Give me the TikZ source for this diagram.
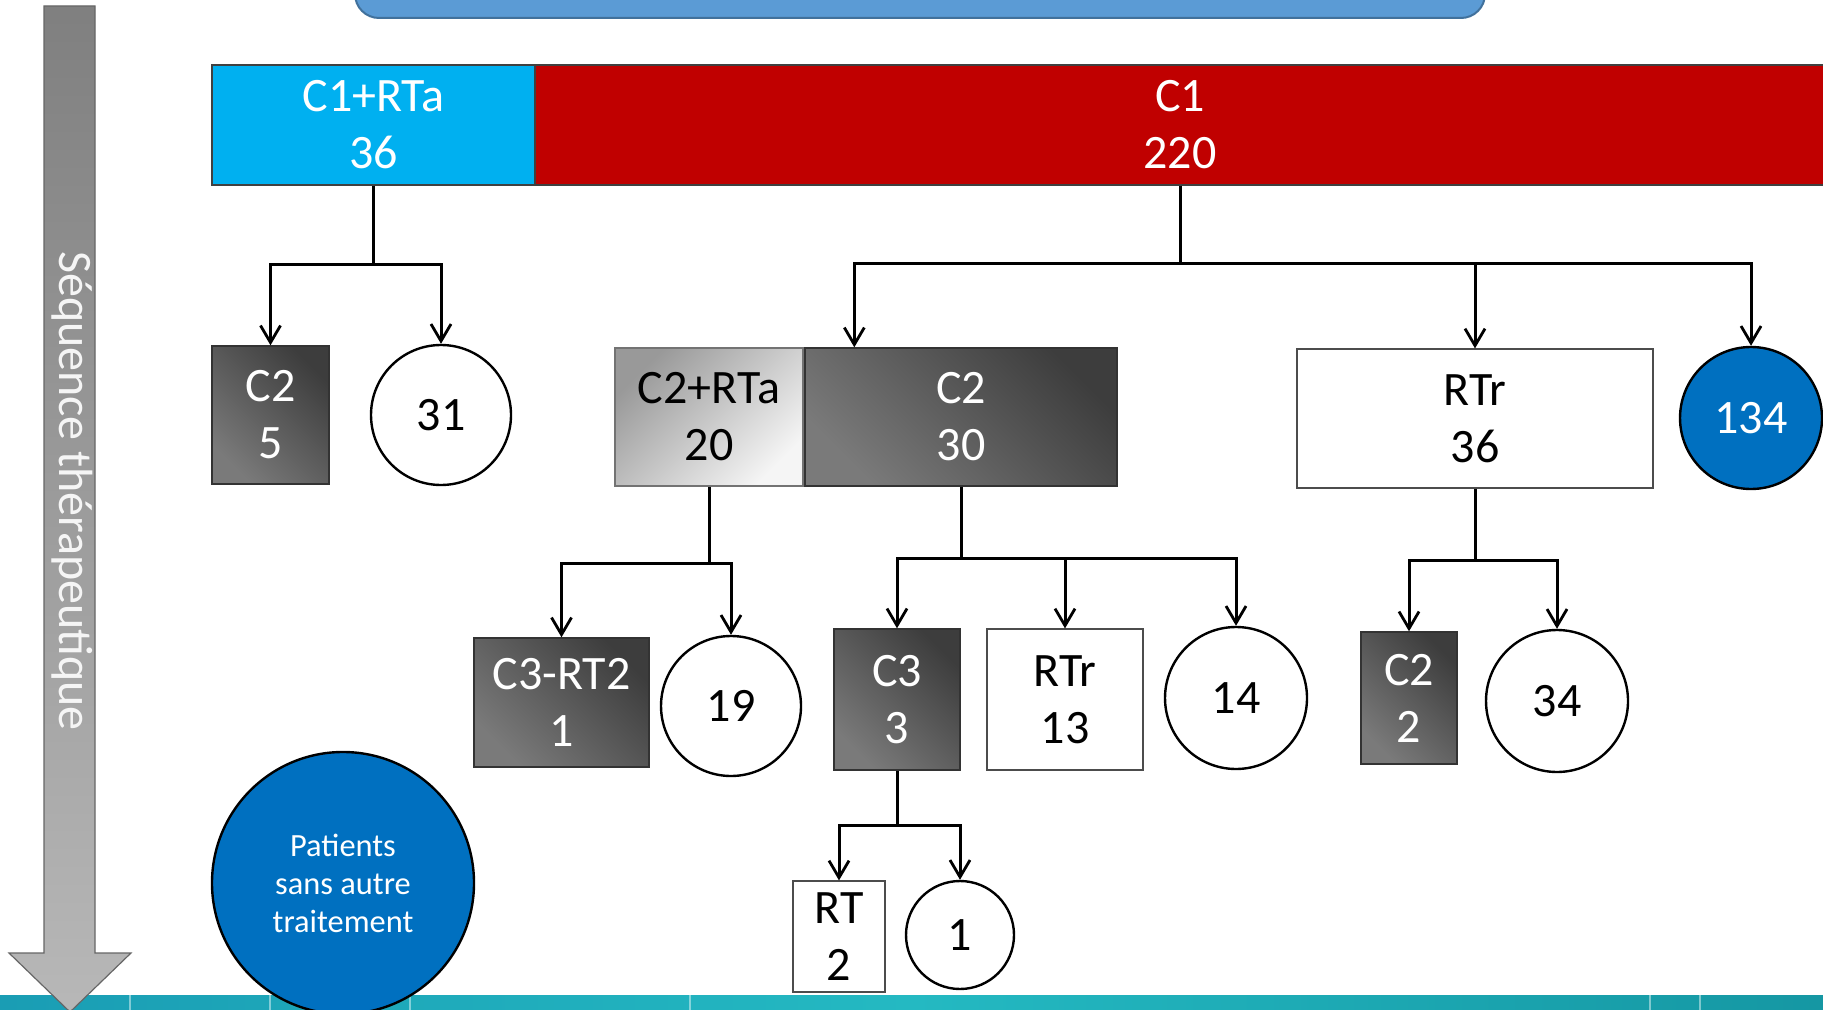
\documentclass[tikz,border=0pt]{standalone}
\usepackage{fontspec}
\setmainfont{Carlito}
\usetikzlibrary{positioning,arrows.meta,fit,calc}

\definecolor{barcyan}{HTML}{00B0F0}
\definecolor{barred}{HTML}{C00000}
\definecolor{discblue}{HTML}{0070C0}
\definecolor{headblue}{HTML}{5B9BD5}
\definecolor{headline}{HTML}{41719C}
\definecolor{tealA}{HTML}{1A9DB4}
\definecolor{tealB}{HTML}{24B9C2}
\definecolor{tealC}{HTML}{1597A3}

\begin{document}
\begin{tikzpicture}[
  x=0.5pt, y=-0.5pt,
  lbl/.style={font=\fontsize{24}{28.5}\selectfont, align=center, inner sep=0pt},
  barbox/.style={lbl, draw=black!75, line width=0.6pt, text=white},
  darkbox/.style={lbl, draw=black!80, line width=0.7pt, text=white, top color=black!76, bottom color=black!52, shading angle=-45},
  greybox/.style={lbl, draw=black!55, line width=0.7pt, top color=black!40, bottom color=black!4, shading angle=45},
  whitebox/.style={lbl, draw=black!70, line width=0.6pt, fill=white},
  countv/.style={lbl, circle, draw=black, line width=1.2pt, fill=white},
  bluev/.style={lbl, circle, draw=black, line width=1.2pt, fill=discblue, text=white},
  arr/.style={draw=black, line width=1.5pt, -{Straight Barb[length=8.5pt, width=10pt, line width=1.4pt]}},
  link/.style={draw=black, line width=1.5pt}
]
\useasboundingbox (0,0) rectangle (1823,1010);
\clip (0,0) rectangle (1823,1010);

% title banner, cut by the top edge
\draw[fill=headblue, draw=headline, line width=1pt, rounded corners=12pt] (355,-60) rectangle (1485,18);

% bottom band
\shade[left color=tealA, right color=tealC, middle color=tealB] (0,995) rectangle (1823,1010);
\foreach \sx in {130,270,410,690,1650,1700}
  \draw[white, opacity=0.45, line width=0.6pt] (\sx,995) -- (\sx,1010);

% sequence arrow
\draw[draw=black!60, line width=0.6pt, top color=black!50, bottom color=black!28]
  (44,6) -- (95,6) -- (95,953) -- (131,953) -- (70,1012) -- (9,953) -- (44,953) -- cycle;
\node[rotate=-90, font=\fontsize{24}{28}\selectfont, text=white!96!black] (seq) at (72,491) {Séquence thérapeutique};

% first line
\node[barbox, fill=barcyan, minimum width=161.5pt, minimum height=60pt] (rta1) at (373.5,125) {C1+RTa\\36};
\node[barbox, fill=barred, minimum width=645pt, minimum height=60pt] (c1) at (1180,125) {C1\\220};

% second line
\node[darkbox, minimum width=58.5pt, minimum height=69pt] (c2a) at (270.5,415) {C2\\5};
\node[countv, minimum size=70pt] (n31) at (441,415) {31};
\node[greybox, minimum width=94pt, minimum height=69pt] (rta2) at (709,417) {C2+RTa\\20};
\node[darkbox, minimum width=156pt, minimum height=69pt] (c2b) at (961,417) {C2\\30};
\coordinate (c2top) at ($(c2b.north west)+(50,0)$);
\node[whitebox, minimum width=178pt, minimum height=69.5pt] (rtr1) at (1475,418.5) {RTr\\36};
\node[bluev, minimum size=71pt] (n134) at (1751,418) {134};

% third line
\node[darkbox, minimum width=87.5pt, minimum height=64.5pt] (c3rt) at (561.5,702.5) {C3-RT2\\1};
\node[countv, minimum size=70pt] (n19) at (731,706) {19};
\node[darkbox, minimum width=63pt, minimum height=70.5pt] (c3) at (897,699.5) {C3\\3};
\node[whitebox, minimum width=78pt, minimum height=70.5pt] (rtr2) at (1065,699.5) {RTr\\13};
\node[countv, minimum size=71pt] (n14) at (1236,698) {14};
\node[darkbox, minimum width=48pt, minimum height=66pt] (c2c) at (1409,698) {C2\\2};
\node[countv, minimum size=71pt] (n34) at (1557,701) {34};

% fourth line
\node[whitebox, minimum width=46pt, minimum height=55.5pt] (rt) at (839,936.5) {RT\\2};
\node[countv, minimum size=54pt] (n1) at (960,935) {1};

% legend
\node[bluev, font=\fontsize{16.2}{19}\selectfont, minimum size=131pt] (none) at (343,883) {Patients\\sans autre\\traitement};

% junctions
\coordinate (j1) at (373.5,265);
\coordinate (j2) at (1180,264);
\coordinate (j3) at (709,563);
\coordinate (j4) at (961,558);
\coordinate (j5) at (1475,560);
\coordinate (j6) at (897,825);

\draw[link] (rta1.south) -- (j1);
\draw[arr] (j1) -| (c2a.north);
\draw[arr] (j1) -| (n31.north);

\draw[link] (c1.south) -- (j2);
\draw[arr] (j2) -| (c2top);
\draw[arr] (j2) -| (rtr1.north);
\draw[arr] (j2) -| (n134.north);

\draw[link] (rta2.south) -- (j3);
\draw[arr] (j3) -| (c3rt.north);
\draw[arr] (j3) -| (n19.north);

\draw[link] (c2b.south) -- (j4);
\draw[arr] (j4) -| (c3.north);
\draw[arr] (j4) -| (rtr2.north);
\draw[arr] (j4) -| (n14.north);

\draw[link] (rtr1.south) -- (j5);
\draw[arr] (j5) -| (c2c.north);
\draw[arr] (j5) -| (n34.north);

\draw[link] (c3.south) -- (j6);
\draw[arr] (j6) -| (rt.north);
\draw[arr] (j6) -| (n1.north);

\end{tikzpicture}
\end{document}
